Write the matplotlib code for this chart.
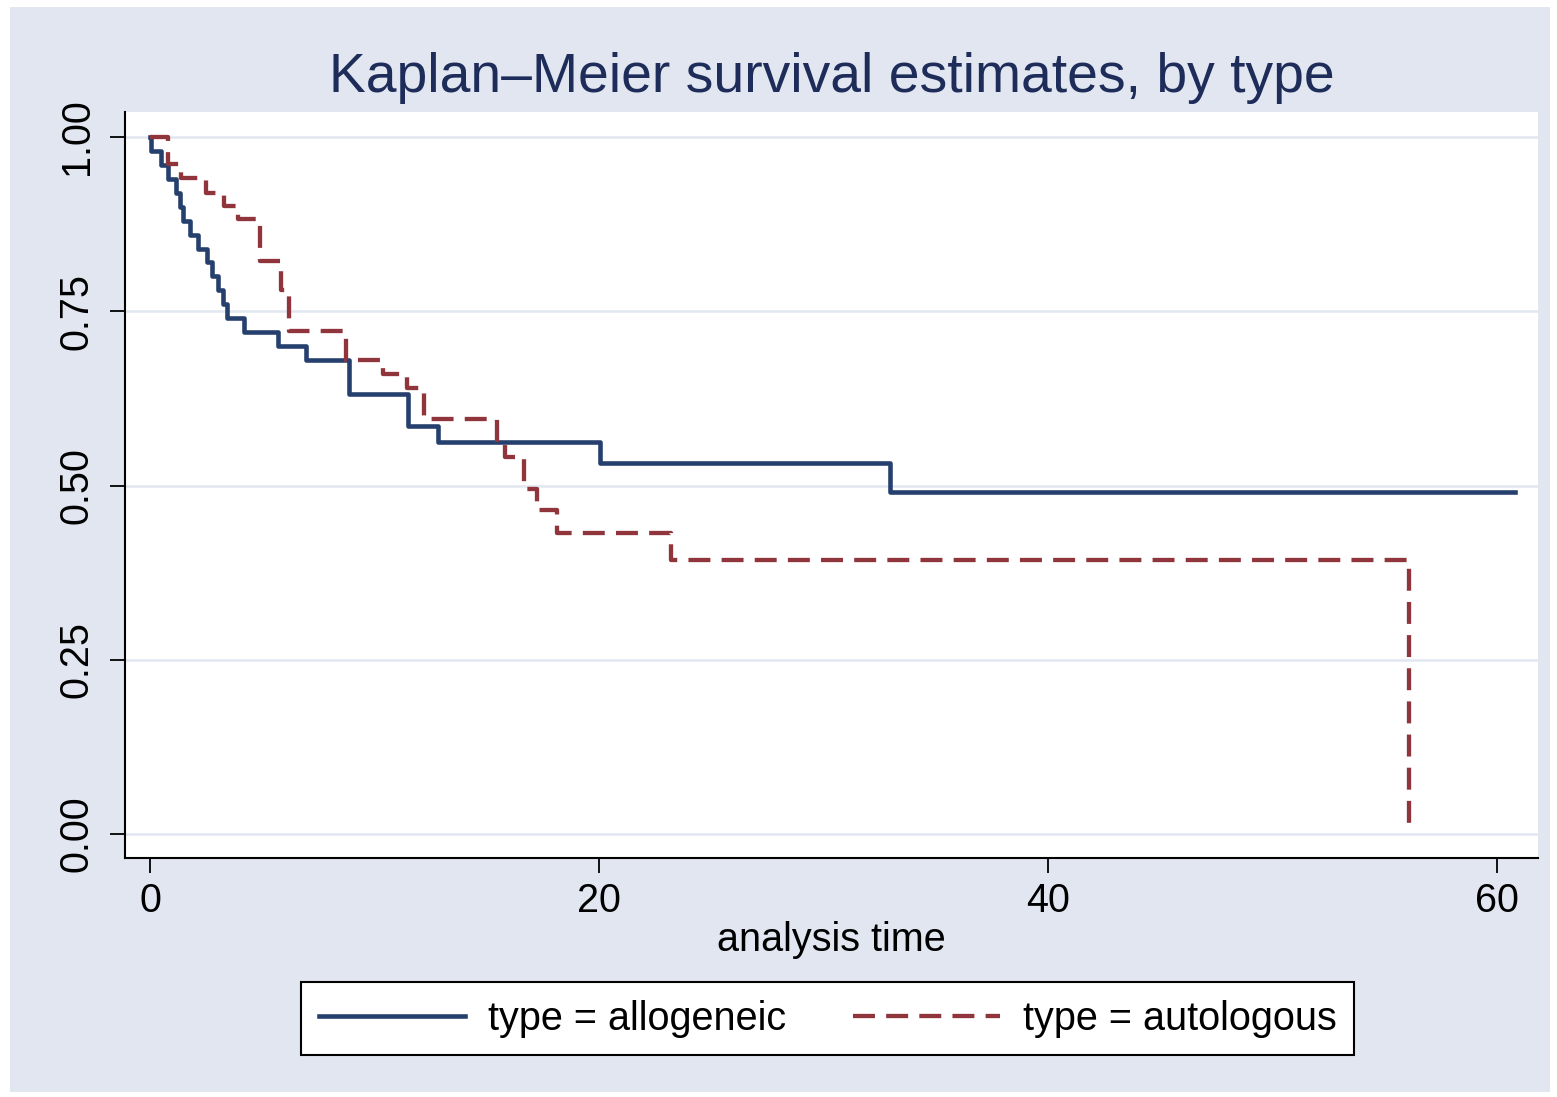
import matplotlib
matplotlib.use("Agg")
import matplotlib.pyplot as plt
from matplotlib.patches import Rectangle

plt.rcParams['font.family'] = ['Liberation Sans', 'DejaVu Sans']

# Kaplan-Meier steps
allo_time = [0, 0.05, 0.48, 0.82, 1.16, 1.34, 1.48, 1.78, 2.15, 2.55, 2.78, 3.01, 3.24, 3.41,
             4.2, 5.72, 6.95, 8.87, 11.5, 12.84, 20.05, 32.96, 60.8]
allo_surv = [1.0, 0.98, 0.96, 0.94, 0.92, 0.90, 0.88, 0.86, 0.84, 0.82, 0.80, 0.78, 0.76, 0.74,
             0.72, 0.70, 0.68, 0.632, 0.586, 0.562, 0.532, 0.491, 0.491]

auto_time = [0, 0.78, 1.38, 2.5, 3.3, 3.9, 4.9, 5.85, 6.2, 8.73, 10.4, 11.43, 12.2,
             15.45, 15.8, 16.65, 17.25, 18.13, 23.23, 56.1]
auto_surv = [1.0, 0.961, 0.941, 0.92, 0.901, 0.882, 0.822, 0.78, 0.722, 0.68, 0.66, 0.64, 0.595,
             0.562, 0.541, 0.495, 0.465, 0.432, 0.393, 0.0]

x_ticks = [0, 20, 40, 60]
y_ticks = [0.0, 0.25, 0.5, 0.75, 1.0]
y_labels = ["0.00", "0.25", "0.50", "0.75", "1.00"]

W, H = 1557, 1097
bg = "#E1E6F0"
blue = "#26406E"
red = "#90353B"
navy = "#1E2C5A"

fig = plt.figure(figsize=(W / 100, H / 100), dpi=100, facecolor="white")
fig.patches.append(Rectangle((10 / W, 1 - 1092 / H), (1550 - 10) / W, (1092 - 7) / H,
                             transform=fig.transFigure, facecolor=bg, edgecolor="none",
                             zorder=-10))

ax = fig.add_axes([125 / W, 1 - 858 / H, (1538 - 125) / W, (858 - 112) / H])
ax.set_facecolor("white")

ax.step(allo_time, allo_surv, where="post", color=blue, lw=3.3, label="type = allogeneic")
ax.step(auto_time, auto_surv, where="post", color=red, lw=3.1, linestyle=(0, (5.1, 2.6)),
        label="type = autologous")

ax.set_xlim(-1.114, 61.83)
ax.set_ylim(-0.0344, 1.0359)
ax.set_xticks(x_ticks)
ax.set_yticks(y_ticks)
ax.set_yticklabels(y_labels, rotation=90, va="center")
ax.grid(axis="y", color=bg, lw=1.8)
ax.set_axisbelow(True)

for s in ["top", "right"]:
    ax.spines[s].set_visible(False)
for s in ["left", "bottom"]:
    ax.spines[s].set_linewidth(1.5)
ax.tick_params(direction="out", length=11, width=1.3, labelsize=28.5)
ax.tick_params(axis="x", pad=6)
ax.tick_params(axis="y", pad=10)

ax.set_xlabel("analysis time", fontsize=28.5, labelpad=1)

fig.text(831.5 / W, 1 - 92 / H, "Kaplan\u2013Meier survival estimates, by type",
         ha="center", va="baseline", fontsize=39.8, color=navy)

leg = ax.legend(loc="center", bbox_to_anchor=(827.5 / W, 1 - 1018.5 / H),
                bbox_transform=fig.transFigure, ncol=2, fontsize=28.5,
                handlelength=3.7, handletextpad=0.58, columnspacing=1.7,
                borderpad=0.45, fancybox=False, framealpha=1, edgecolor="black")
leg.get_frame().set_linewidth(1.5)

fig.savefig("out.png", dpi=100, facecolor="white")
